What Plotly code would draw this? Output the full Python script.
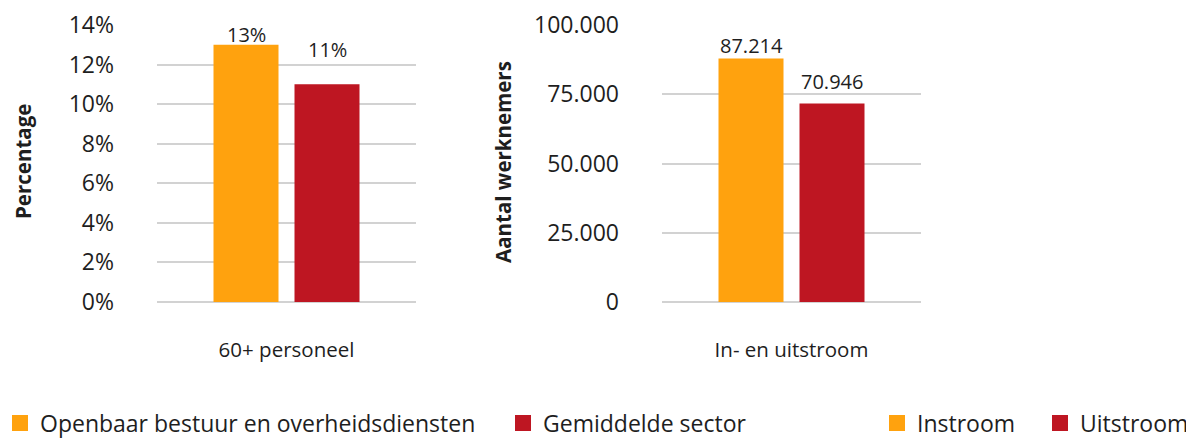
import plotly.graph_objects as go

# ---- data ----
cat_left = ["60+ personeel"]
cat_right = ["In- en uitstroom"]
left_series = ["Openbaar bestuur en overheidsdiensten", "Gemiddelde sector"]
left_values = [0.129, 0.109]
right_series = ["Instroom", "Uitstroom"]
right_values = [87214, 70946]
y_left_title = "Percentage"
y_right_title = "Aantal werknemers"

ORANGE = "#FFA20E"
RED = "#BE1622"
TXT = "#1e1e1e"
GRID = "#d2d2d2"
FONT = "Open Sans"

# page body has an 8px default margin; size the figure so it fits the window
OFF = 8
W, H = 1194 - OFF, 439 - OFF

def xp(px):
    return (px - OFF) / W

def yp(py):
    return (H - (py - OFF)) / H

colors = [ORANGE, RED]
legends = ["legend", "legend2", "legend3", "legend4"]
bar_xshift = [-40.5, 40.5]          # label offset to each bar's centre (style)
label_yshift = [[12, 37], [15, 24]]  # label lift above each bar top (style)

fig = go.Figure()
annotations = []
for i, (name, v) in enumerate(zip(left_series, left_values)):
    fig.add_trace(go.Bar(
        x=cat_left, y=[v], name=name, legend=legends[i], showlegend=True,
        marker=dict(color=colors[i], line=dict(color=colors[i], width=4)),
        xaxis="x", yaxis="y", hoverinfo="skip"))
    annotations.append(dict(
        x=cat_left[0], y=v, xref="x", yref="y", text=f"{round(v * 100):d}%",
        showarrow=False, xanchor="center", yanchor="middle",
        xshift=bar_xshift[i], yshift=label_yshift[0][i],
        font=dict(size=20, color=TXT, family=FONT)))
for i, (name, v) in enumerate(zip(right_series, right_values)):
    fig.add_trace(go.Bar(
        x=cat_right, y=[v], name=name, legend=legends[2 + i], showlegend=True,
        marker=dict(color=colors[i], line=dict(color=colors[i], width=4)),
        xaxis="x2", yaxis="y2", hoverinfo="skip"))
    annotations.append(dict(
        x=cat_right[0], y=v, xref="x2", yref="y2", text=f"{v:,d}".replace(",", "."),
        showarrow=False, xanchor="center", yanchor="middle",
        xshift=bar_xshift[i], yshift=label_yshift[1][i],
        font=dict(size=20, color=TXT, family=FONT)))

ydom = [yp(302), yp(25)]

def xax(dom):
    return dict(domain=dom, showgrid=False, showline=False, zeroline=False,
                ticks="", tickfont=dict(size=20.5, color=TXT, family=FONT),
                ticklabelstandoff=33, fixedrange=True, automargin=False)

def yax(anchor, rng, dtick, fmt):
    return dict(domain=ydom, anchor=anchor, range=rng, dtick=dtick, tickformat=fmt,
                showgrid=True, gridcolor=GRID, gridwidth=2,
                zeroline=True, zerolinecolor=GRID, zerolinewidth=2,
                showline=False, ticks="",
                tickfont=dict(size=23, color=TXT, family=FONT),
                ticklabelstandoff=42, fixedrange=True, automargin=False)

def leg(xpx, anchor="left"):
    x = 1.0 if anchor == "right" else xp(xpx)
    return dict(xref="paper", yref="paper", x=x, y=yp(423),
                xanchor=anchor, yanchor="middle", orientation="h",
                font=dict(size=23, color=TXT, family=FONT),
                bgcolor="rgba(0,0,0,0)", borderwidth=0, visible=True)

annotations += [
    dict(text=y_left_title, x=xp(23), y=yp(162), xref="paper", yref="paper",
         textangle=-90, showarrow=False, xanchor="center", yanchor="middle",
         font=dict(size=20.5, color=TXT, family=FONT, weight="bold")),
    dict(text=y_right_title, x=xp(503), y=yp(162), xref="paper", yref="paper",
         textangle=-90, showarrow=False, xanchor="center", yanchor="middle",
         font=dict(size=20.5, color=TXT, family=FONT, weight="bold")),
]

fig.update_layout(
    width=W, height=H,
    margin=dict(l=0, r=0, t=0, b=0, autoexpand=False),
    paper_bgcolor="white", plot_bgcolor="white",
    font=dict(family=FONT, color=TXT),
    separators=",.",
    showlegend=True,
    barmode="group", bargap=0.3745, bargroupgap=0.247,
    xaxis=xax([xp(157), xp(416)]),
    yaxis=yax("x", [0, 0.14], 0.02, ".0%"),
    xaxis2=dict(xax([xp(662), xp(921)]), anchor="y2"),
    yaxis2=yax("x2", [0, 100000], 25000, ",d"),
    legend=leg(0),
    legend2=leg(503),
    legend3=leg(877),
    legend4=leg(1043, "right"),
    annotations=annotations,
)

fig.write_html("out.html")
